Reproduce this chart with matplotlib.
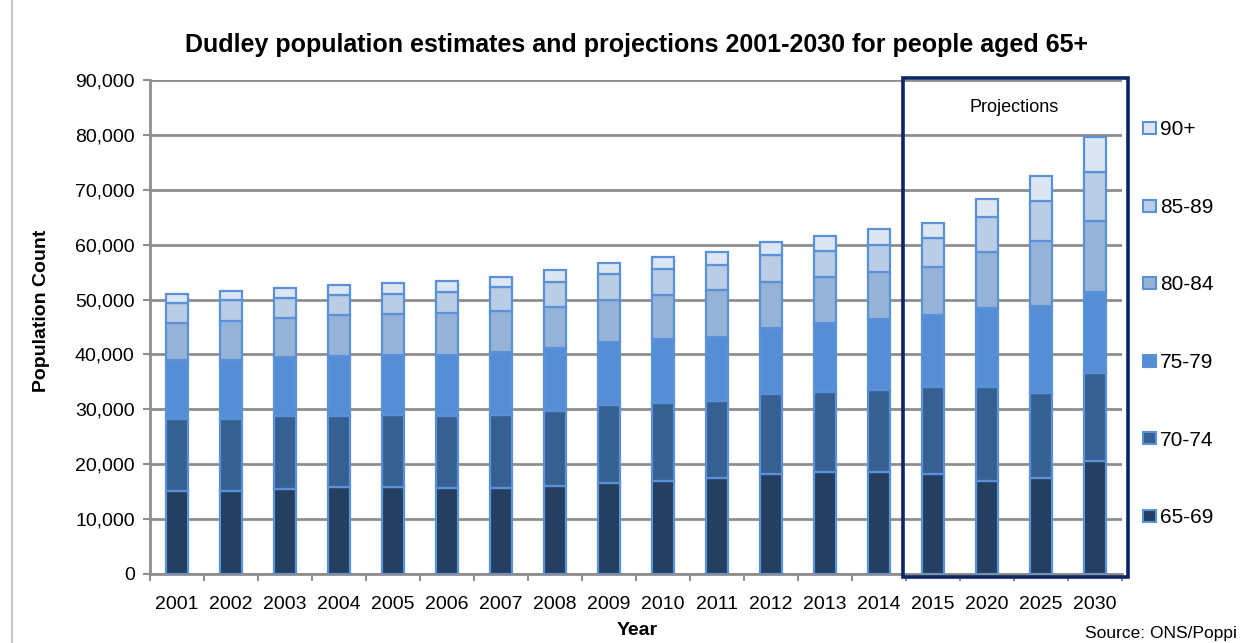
import matplotlib
matplotlib.use("Agg")
import matplotlib.pyplot as plt
from matplotlib.patches import Rectangle, Patch
import numpy as np

plt.rcParams['font.family'] = ['Liberation Sans', 'DejaVu Sans']

years = ['2001', '2002', '2003', '2004', '2005', '2006', '2007', '2008', '2009',
         '2010', '2011', '2012', '2013', '2014', '2015', '2020', '2025', '2030']
age_groups = ['65-69', '70-74', '75-79', '80-84', '85-89', '90+']

pop_65_69 = [15100, 15100, 15400, 15800, 15800, 15600, 15600, 16100, 16500,
             17000, 17400, 18300, 18600, 18600, 18300, 17000, 17400, 20500]
pop_70_74 = [13100, 13100, 13300, 12900, 13200, 13100, 13400, 13600, 14200,
             14200, 14100, 14500, 14600, 14900, 15700, 17000, 15600, 16100]
pop_75_79 = [10800, 10800, 10800, 11000, 10900, 11200, 11500, 11500, 11600,
             11600, 11700, 12100, 12500, 12900, 13200, 14400, 15900, 14800]
pop_80_84 = [6700, 7100, 7100, 7500, 7500, 7600, 7400, 7500, 7600,
             8000, 8500, 8300, 8400, 8700, 8800, 10200, 11800, 13000]
pop_85_89 = [3700, 3800, 3600, 3600, 3700, 3900, 4400, 4500, 4700,
             4700, 4600, 4900, 4800, 4800, 5200, 6500, 7300, 8900]
pop_90_plus = [1700, 1700, 1900, 1800, 2000, 2000, 1800, 2100, 2100,
               2300, 2400, 2400, 2700, 2900, 2800, 3300, 4600, 6400]

series = [pop_65_69, pop_70_74, pop_75_79, pop_80_84, pop_85_89, pop_90_plus]
colors = ['#243F60', '#376092', '#558ED5', '#95B3D7', '#B9CDE5', '#DCE6F2']
edge = '#5B91D8'
grid_c = '#8E8E8E'

fig = plt.figure(figsize=(12.45, 6.43), dpi=100)
ax = fig.add_axes([150/1245, 69/643, 972/1245, 494/643])

x = np.arange(len(years))
bottom = np.zeros(len(years))
for vals, col, lab in zip(series, colors, age_groups):
    ax.bar(x, vals, width=0.42, bottom=bottom, color=col, edgecolor=edge,
           linewidth=1.6, label=lab, zorder=3)
    bottom += np.array(vals)

ax.set_xlim(-0.5, len(years) - 0.5)
ax.set_ylim(0, 90000)
ax.set_yticks(np.arange(0, 90001, 10000))
ax.set_yticklabels([f'{v:,}' for v in range(0, 90001, 10000)])
ax.set_xticks(x)
ax.set_xticklabels(years)
ax.set_xticks(np.arange(-0.5, len(years), 1), minor=True)
ax.tick_params(axis='x', which='major', length=0, labelsize=14, pad=16, colors='black')
ax.tick_params(axis='x', which='minor', length=5, width=1.5, color=grid_c)
ax.tick_params(axis='y', length=5, width=1.5, color=grid_c, labelsize=14, pad=6)

ax.grid(axis='y', color=grid_c, linewidth=2.0, zorder=0)
ax.set_axisbelow(True)
for s in ['top', 'right']:
    ax.spines[s].set_visible(False)
for s in ['left', 'bottom']:
    ax.spines[s].set_color(grid_c)
    ax.spines[s].set_linewidth(2.0)

# Projections box
rect = Rectangle((13.44, -550), 4.17, 90910, fill=False, edgecolor='#0B2566',
                 linewidth=2.6, transform=ax.transData, clip_on=False, zorder=5)
ax.add_patch(rect)
ax.text(15.5, 84900, 'Projections', ha='center', va='center', fontsize=13)

fig.text(0.511, 0.930, 'Dudley population estimates and projections 2001-2030 for people aged 65+',
         ha='center', va='center', fontsize=18, fontweight='bold')
fig.text(0.033, 0.516, 'Population Count', rotation=90, ha='center', va='center',
         fontsize=14, fontweight='bold')
fig.text(0.512, 0.02, 'Year', ha='center', va='center', fontsize=14, fontweight='bold')
fig.text(1237/1245, 0.015, 'Source: ONS/Poppi', ha='right', va='center', fontsize=12.5)

handles = [Patch(facecolor=c, edgecolor=edge, linewidth=1.5, label=l)
           for c, l in zip(colors, age_groups)][::-1]
fig.legend(handles=handles, loc='upper left', bbox_to_anchor=(1133/1245, 1 - 110/643),
           frameon=False, fontsize=15, handlelength=0.6, handleheight=0.5,
           handletextpad=0.2, labelspacing=2.81, borderpad=0)

fig.add_artist(plt.Line2D([12/1245, 12/1245], [0, 1], color='#C8C8C8', linewidth=1.5))

fig.savefig('out.png', dpi=100)
